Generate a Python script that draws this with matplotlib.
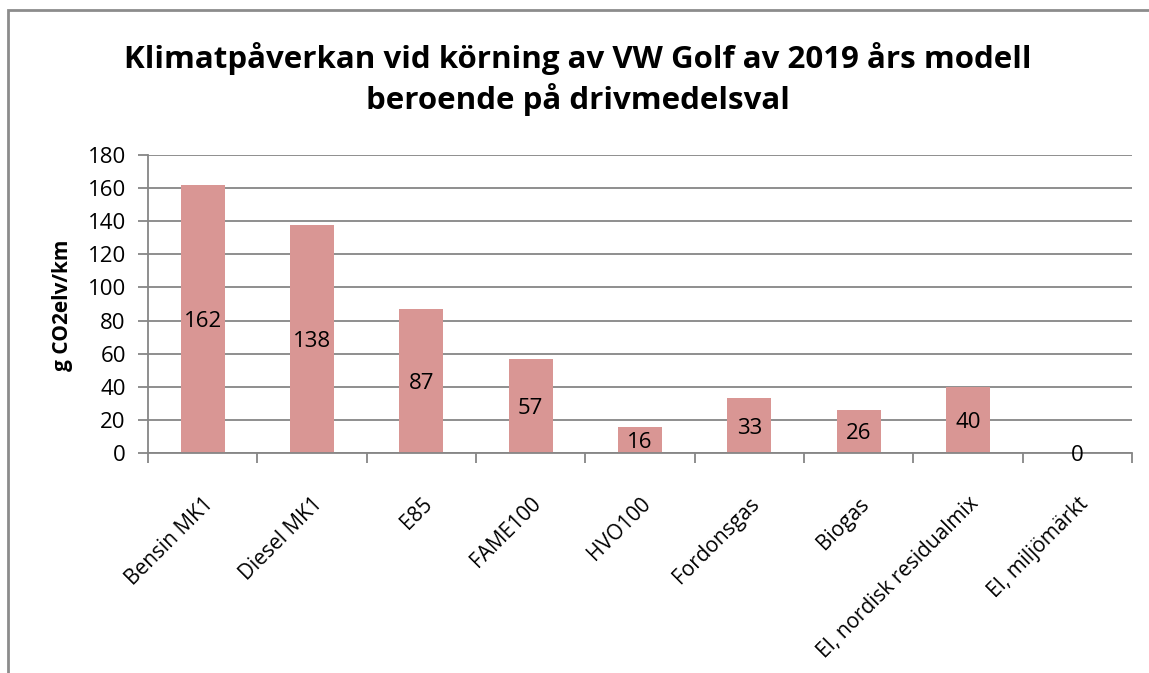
import matplotlib
matplotlib.use("Agg")
import matplotlib.pyplot as plt
from matplotlib.patches import Rectangle

categories = ["Bensin MK1", "Diesel MK1", "E85", "FAME100", "HVO100",
              "Fordonsgas", "Biogas", "El, nordisk residualmix", "El, miljömärkt"]
values = [162, 138, 87, 57, 16, 33, 26, 40, 0]
yticks = [0, 20, 40, 60, 80, 100, 120, 140, 160, 180]

plt.rcParams['font.family'] = ['Open Sans', 'DejaVu Sans']

W, H = 1149, 673
fig = plt.figure(figsize=(W / 100, H / 100), dpi=100)
ax = fig.add_axes([148 / W, 1 - 453 / H, (1132 - 148) / W, (453 - 155) / H])

grid_c = "#868686"
bar_c = "#D99694"
fs = 16

x = list(range(len(categories)))
bars = ax.bar(x, values, width=0.4, color=bar_c, zorder=2)
for xi, v in zip(x, values):
    ax.text(xi, v / 2, str(v), ha="center", va="center_baseline", fontsize=fs,
            color="black", zorder=3)

ax.set_xlim(-0.5, len(categories) - 0.5)
ax.set_ylim(0, 180)
ax.set_yticks(yticks)
ax.set_yticklabels([str(t) for t in yticks], fontsize=fs)
ax.yaxis.grid(True, color=grid_c, linewidth=1.3, zorder=0)
ax.set_axisbelow(True)

ax.set_xticks([i - 0.5 for i in range(len(categories) + 1)], minor=False)
ax.set_xticklabels([])
ax.set_xticks(x, minor=True)
ax.set_xticklabels(categories, minor=True, rotation=45, ha="right",
                   rotation_mode="anchor", fontsize=15)
ax.tick_params(axis="x", which="major", length=7, color=grid_c, width=1.3)
ax.tick_params(axis="x", which="minor", length=0, pad=29)
ax.tick_params(axis="y", length=7, color=grid_c, width=1.3, pad=9)

for s in ["top", "right"]:
    ax.spines[s].set_visible(False)
ax.spines["left"].set_color(grid_c)
ax.spines["bottom"].set_color(grid_c)
ax.spines["left"].set_linewidth(1.3)
ax.spines["bottom"].set_linewidth(1.3)

ax.set_ylabel("g CO2elv/km", fontsize=15, fontweight="bold")
ax.yaxis.set_label_coords(73 / W, 1 - 305 / H, transform=fig.transFigure)

fig.text(578 / W, 1 - 79 / H,
         "Klimatpåverkan vid körning av VW Golf av 2019 års modell\nberoende på drivmedelsval",
         ha="center", va="center", fontsize=22.5, fontweight="bold", linespacing=1.3)

fig.patches.append(Rectangle((8 / W, -0.1), 1.2, 1 - 10 / H + 0.1, transform=fig.transFigure,
                             fill=False, edgecolor="#8c8c8c", linewidth=2))

fig.savefig("out.png", dpi=100)
